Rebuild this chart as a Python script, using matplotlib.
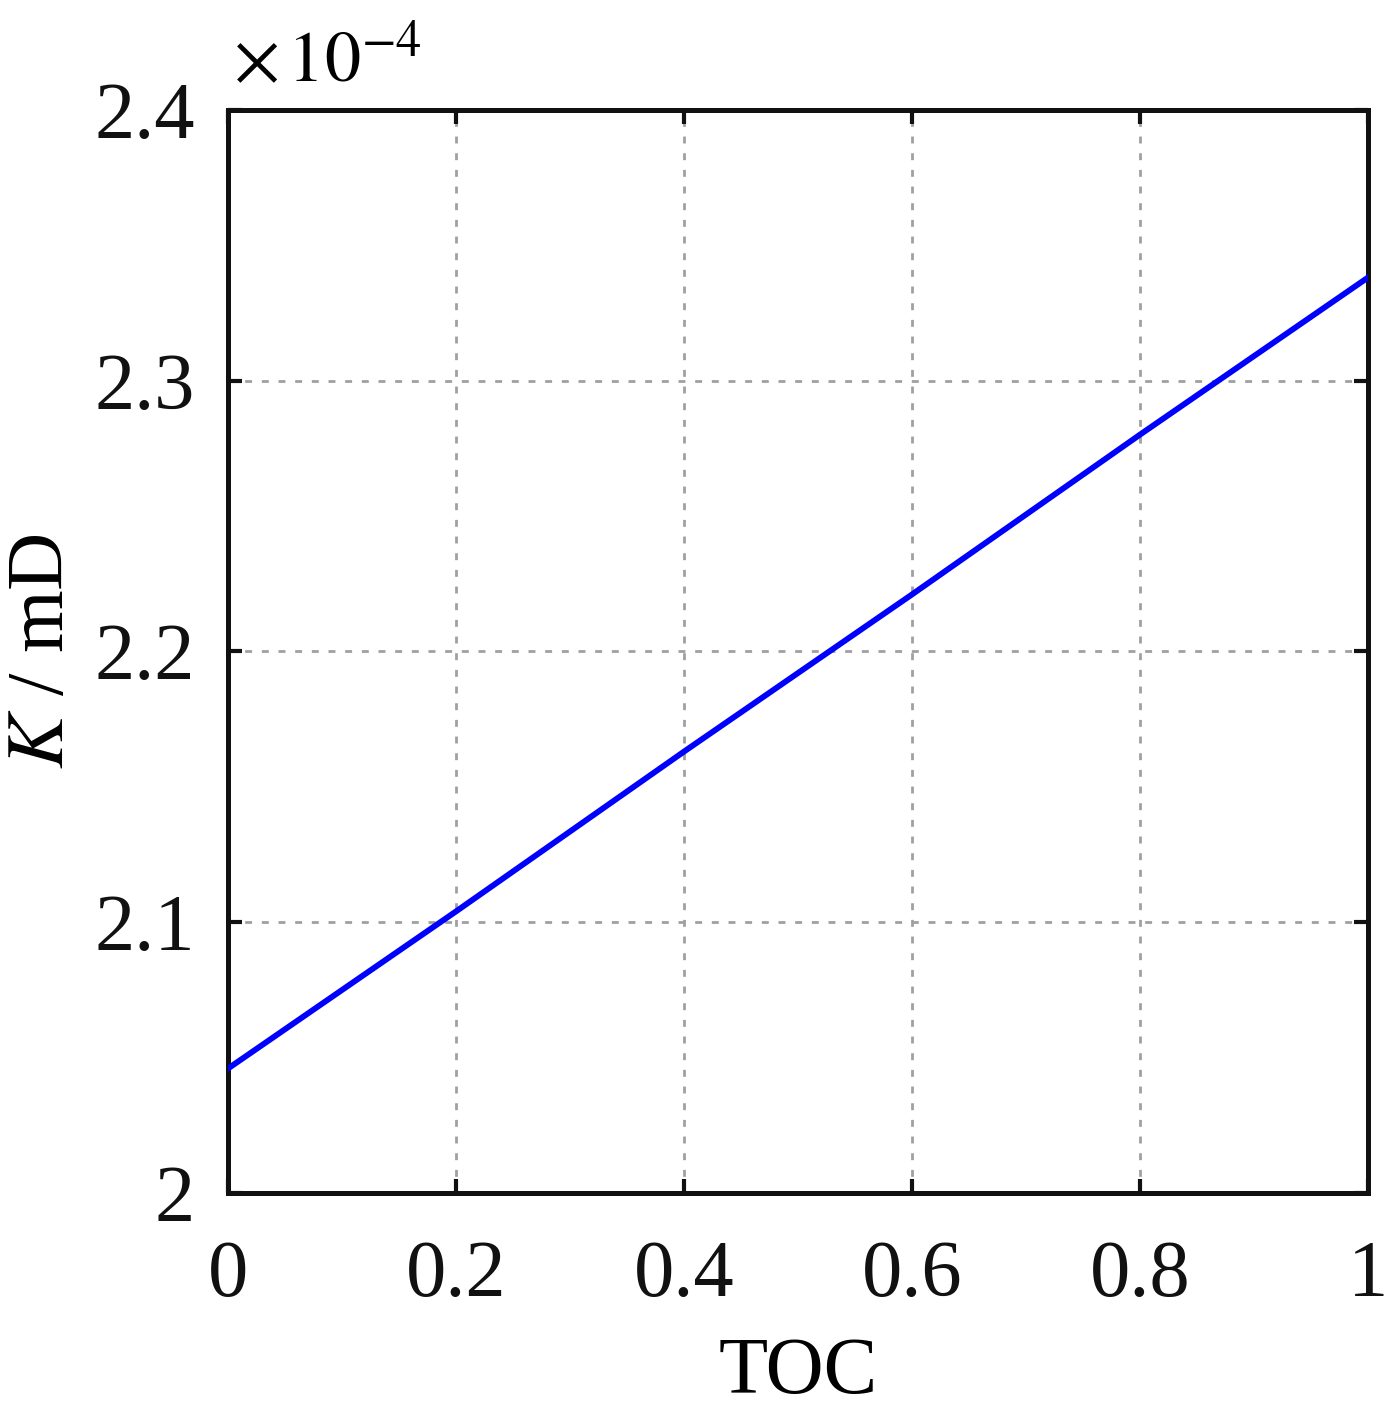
import numpy as np
import matplotlib
matplotlib.use('Agg')
import matplotlib.pyplot as plt

# donnees (K en unites de 1e-4 mD)
toc = [0.0, 0.2, 0.4, 0.6, 0.8, 1.0]
k_e4 = [2.046, 2.104, 2.163, 2.221, 2.280, 2.338]
xticks = [0, 0.2, 0.4, 0.6, 0.8, 1]
yticks = [2.0, 2.1, 2.2, 2.3, 2.4]
xlabels = ['0', '0.2', '0.4', '0.6', '0.8', '1']
ylabels = ['2', '2.1', '2.2', '2.3', '2.4']

plt.rcParams['font.family'] = ['Liberation Serif', 'DejaVu Serif']
plt.rcParams['mathtext.fontset'] = 'stix'

fig = plt.figure(figsize=(14, 14.16), dpi=100)
ax = fig.add_axes([0.163, 0.1575, 0.814, 0.765])

ax.plot(toc, k_e4, color='#0000ff', linewidth=4.2, zorder=3)

ax.set_xlim(0, 1)
ax.set_ylim(2.0, 2.4)
ax.set_xticks(xticks)
ax.set_xticklabels(xlabels)
ax.set_yticks(yticks)
ax.set_yticklabels(ylabels)
ax.grid(True, linestyle=(0, (2.5, 3.5)), color='#a0a0a0', linewidth=2)

for s in ax.spines.values():
    s.set_linewidth(3.6)
    s.set_color('#111111')
ax.tick_params(direction='in', length=10, width=3, top=True, right=True,
               labelsize=58, colors='#111111')
ax.tick_params(axis='x', pad=34)
ax.tick_params(axis='y', pad=24)

ax.set_xlabel('TOC', fontsize=58, labelpad=17)
ax.set_ylabel(r'$K$ / mD', fontsize=58, labelpad=10)
ax.text(0.004, 1.012, r'$\times\,10^{-4}$', transform=ax.transAxes,
        fontsize=52, ha='left', va='bottom')

fig.savefig('out.png', dpi=100, facecolor='white')
